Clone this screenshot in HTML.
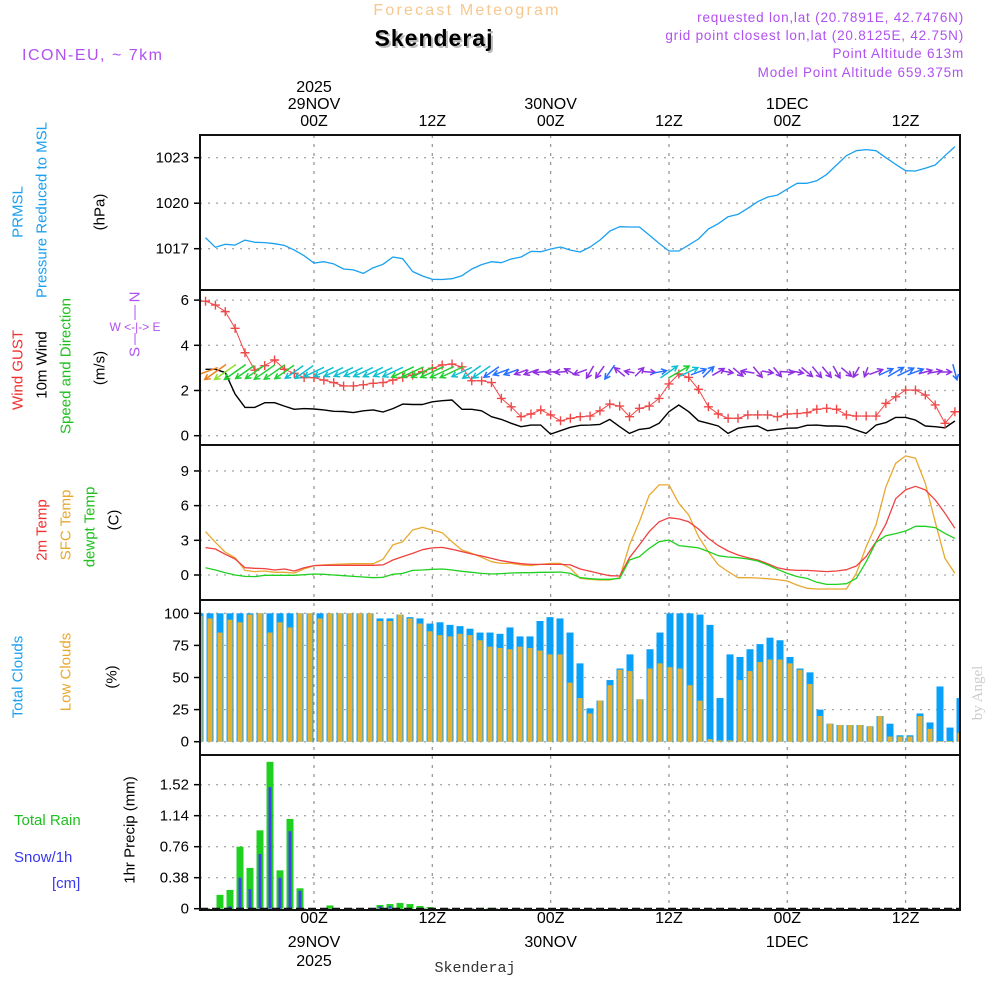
<!DOCTYPE html>
<html><head><meta charset="utf-8"><title>Meteogram Skenderaj</title>
<style>
html,body{margin:0;padding:0;background:#fff;}
svg{display:block;font-family:"Liberation Sans","DejaVu Sans",sans-serif;}
</style></head>
<body>
<svg id="chart" width="1000" height="1000" viewBox="0 0 1000 1000" xmlns="http://www.w3.org/2000/svg">
<rect x="0" y="0" width="1000" height="1000" fill="#fff"/>
<text x="467" y="15" text-anchor="middle" font-size="16" letter-spacing="2.2" fill="#f6c890">Forecast Meteogram</text>
<text x="436" y="48" text-anchor="middle" font-size="23" font-weight="bold" letter-spacing="1" fill="#bbb">Skenderaj</text>
<text x="434" y="46" text-anchor="middle" font-size="23" font-weight="bold" letter-spacing="1" fill="#000">Skenderaj</text>
<text x="22" y="60" font-size="16" letter-spacing="1.5" fill="#b050f0">ICON-EU, ~ 7km</text>
<g font-size="13.5" fill="#b050f0" text-anchor="end" letter-spacing="0.8">
<text x="964" y="22">requested lon,lat (20.7891E, 42.7476N)</text>
<text x="964" y="40">grid point closest lon,lat (20.8125E, 42.75N)</text>
<text x="964" y="58">Point Altitude 613m</text>
<text x="964" y="77">Model Point Altitude 659.375m</text>
</g>
<g id="grid"></g>
<g id="marks"></g>
<g id="frames"></g>
<g id="labels" font-size="15"></g>
<text transform="translate(982,693) rotate(-90)" text-anchor="middle" font-size="15" fill="#ccc" font-family="Liberation Serif, serif">by Angel</text>
<text x="475" y="972" text-anchor="middle" font-size="15" font-family="Liberation Mono, monospace" fill="#333">Skenderaj</text>
</svg>
<script>
// ---------- data (hourly, hours relative to 29NOV 00Z, -11..65) ----------
const hours = [];
for (let h = -11; h <= 65; h++) hours.push(h);
const pressure = [1017.73,1017.09,1017.29,1017.24,1017.57,1017.42,1017.40,1017.33,1017.22,1016.91,1016.54,1016.05,1016.14,1016.0,1015.66,1015.6,1015.37,1015.75,1015.97,1016.45,1016.34,1015.5,1015.2,1014.98,1014.97,1015.02,1015.22,1015.66,1015.95,1016.14,1016.08,1016.32,1016.45,1016.82,1016.80,1016.98,1017.11,1016.91,1016.78,1017.11,1017.57,1018.16,1018.45,1018.43,1018.43,1017.9,1017.35,1016.85,1016.85,1017.24,1017.64,1018.3,1018.65,1019.11,1019.26,1019.66,1020.1,1020.4,1020.53,1020.93,1021.31,1021.31,1021.48,1021.9,1022.52,1023.13,1023.46,1023.53,1023.46,1023.0,1022.56,1022.14,1022.12,1022.3,1022.52,1023.13,1023.73];
const gust = [5.95,5.78,5.49,4.75,3.67,2.9,3.1,3.35,2.94,2.76,2.57,2.57,2.46,2.35,2.2,2.2,2.25,2.32,2.35,2.46,2.58,2.68,2.83,2.98,3.13,3.17,3.05,2.43,2.43,2.35,1.65,1.28,0.84,0.96,1.14,0.92,0.66,0.77,0.84,0.87,1.1,1.4,1.31,0.84,1.21,1.31,1.65,2.29,2.73,2.58,2.05,1.28,0.96,0.77,0.77,0.92,0.92,0.92,0.84,0.96,0.98,1.02,1.17,1.21,1.17,0.92,0.87,0.87,0.87,1.43,1.72,2.02,2.02,1.8,1.36,0.55,1.06];
const wind10 = [2.94,2.94,2.79,1.84,1.25,1.25,1.46,1.46,1.31,1.17,1.2,1.18,1.14,1.08,1.07,1.02,1.1,1.14,1.05,1.2,1.4,1.38,1.38,1.5,1.55,1.58,1.17,1.17,1.1,0.84,0.72,0.55,0.4,0.47,0.47,0.07,0.22,0.37,0.46,0.47,0.5,0.72,0.4,0.1,0.28,0.33,0.55,1.06,1.36,1.06,0.66,0.55,0.43,0.1,0.33,0.4,0.43,0.22,0.28,0.33,0.34,0.46,0.47,0.43,0.43,0.4,0.25,0.1,0.47,0.58,0.81,0.81,0.69,0.43,0.4,0.35,0.65];
const windDir = [250,235,235,235,235,235,235,235,235,235,235,245,245,245,245,245,245,245,245,245,245,245,245,245,245,245,245,235,235,235,250,250,250,250,265,265,265,300,250,210,215,215,310,280,45,95,80,55,60,65,70,45,60,100,130,280,140,100,140,95,100,130,140,140,150,130,210,200,70,65,60,65,70,75,80,90,165];
const temp2m = [2.37,2.25,1.79,1.38,0.63,0.58,0.55,0.43,0.52,0.35,0.63,0.81,0.84,0.84,0.84,0.84,0.84,0.84,0.87,1.3,1.59,1.87,2.19,2.34,2.39,2.22,2.02,1.82,1.64,1.44,1.24,1.1,0.98,0.92,0.92,0.92,0.92,0.87,0.52,0.32,0.12,-0.06,-0.09,1.5,2.6,3.75,4.6,4.96,4.85,4.6,3.98,3.17,2.54,2.08,1.73,1.5,1.3,0.98,0.63,0.46,0.4,0.4,0.35,0.29,0.35,0.46,0.78,1.6,2.88,4.4,6.6,7.36,7.67,7.36,6.5,5.34,4.04];
const tempSfc = [3.75,2.83,1.96,1.5,0.4,0.29,0.35,0.23,0.23,0.17,0.52,0.81,0.87,0.92,0.95,0.98,0.98,0.98,1.36,2.6,2.88,3.89,4.12,3.89,3.66,2.88,2.16,1.87,1.53,1.15,1.0,1.0,0.87,0.81,0.92,1.0,1.0,0.58,-0.29,-0.37,-0.43,-0.43,-0.23,2.6,4.6,6.9,7.79,7.79,6.2,5.2,3.32,2.0,0.87,0.29,-0.23,-0.23,-0.26,-0.32,-0.4,-0.52,-0.87,-1.15,-1.21,-1.21,-1.21,-1.21,0.14,2.45,4.33,7.64,9.66,10.3,10.1,7.93,4.6,1.44,0.14];
const dewpt = [0.63,0.43,0.2,0.0,-0.12,-0.14,-0.03,-0.03,-0.03,-0.03,0.03,0.09,0.06,0.0,-0.06,-0.12,-0.17,-0.23,-0.2,0.06,0.14,0.4,0.43,0.49,0.52,0.43,0.32,0.23,0.14,0.09,0.12,0.17,0.2,0.2,0.23,0.23,0.26,0.14,-0.23,-0.32,-0.37,-0.37,-0.29,1.3,1.59,2.3,2.88,3.03,2.54,2.45,2.34,2.02,1.67,1.56,1.5,1.38,1.21,0.87,0.49,0.14,-0.14,-0.29,-0.63,-0.81,-0.81,-0.75,-0.29,1.15,2.83,3.4,3.58,3.81,4.21,4.21,4.1,3.6,3.17];
const totalClouds = [100,100,100,100,100,100,100,100,100,100,100,100,100,100,100,100,100,100,96,96,99,97,96,92,93,91,90,88,85,85,84,89,82,82,94,97,96,85,61,26,32,48,57,68,33,72,85,100,100,100,99,91,34,68,66,72,76,81,79,66,57,54,25,14,13,13,13,12,20,14,5,5,22,15,43,11,34];
const lowClouds = [98,96,85,95,93,99,100,85,93,89,100,100,96,100,100,100,100,100,94,94,99,96,92,86,83,82,84,83,79,74,73,72,74,73,71,68,68,46,34,22,32,44,56,55,33,57,61,58,57,44,32,2,1,1,48,55,62,64,64,61,56,45,20,14,13,13,13,12,20,4,4,4,20,10,0.5,0.5,7];
const rain = [0,0,0.17,0.23,0.76,0.5,0.96,1.8,0.47,1.1,0.25,0,0,0.04,0,0,0,0,0.045,0.057,0.07,0.057,0.033,0.02,0,0,0,0,0.01,0.01,0,0,0,0,0,0,0,0,0,0,0,0,0,0,0,0,0,0,0,0,0,0,0,0,0,0,0,0,0,0,0,0,0,0,0,0,0,0,0,0,0,0,0,0,0,0,0];
const snow = [0,0,0,0.03,0.38,0.24,0.67,1.49,0.38,0.95,0.22,0,0,0,0,0,0,0,0.03,0.03,0,0,0,0,0,0,0,0,0,0,0,0,0,0,0,0,0,0,0,0,0,0,0,0,0,0,0,0,0,0,0,0,0,0,0,0,0,0,0,0,0,0,0,0,0,0,0,0,0,0,0,0,0,0,0,0,0];
const pressTicks = [1017,1020,1023];
const windTicks = [0,2,4,6];
const tempTicks = [0,3,6,9];
const cloudTicks = [0,25,50,75,100];
const precipTicks = [0,0.38,0.76,1.14,1.52];
const timeTicks = [0,12,24,36,48,60];
const timeLabels = ["00Z","12Z","00Z","12Z","00Z","12Z"];
const dayLabels = ["29NOV","","30NOV","","1DEC",""];

// ---------- scales ----------
const X0 = 200, X1 = 960;
const xT = h => 314 + 9.86 * h;
const xBar = h => 310 + 10 * h;
const yP = v => 248.7 - (v - 1017) * 15.17;
const yW = v => 435.7 - v * 22.6;
const yTm = v => 575 - v * 11.56;
const yC = v => 741.7 - v * 1.284;
const yR = v => 908.7 - v * 81.6;
const panels = [[135,290],[290,445],[445,600],[600,755],[755,910]];

const NS = "http://www.w3.org/2000/svg";
function mk(tag, attrs, parent) {
  const e = document.createElementNS(NS, tag);
  for (const k in attrs) e.setAttribute(k, attrs[k]);
  parent.appendChild(e);
  return e;
}
const grid = document.getElementById('grid');
const marks = document.getElementById('marks');
const frames = document.getElementById('frames');
const labels = document.getElementById('labels');

const defs = mk('defs', {}, document.getElementById('chart'));
const cp = mk('clipPath', {id: 'plotclip'}, defs);
mk('rect', {x: X0, y: 135, width: X1 - X0, height: 775}, cp);
marks.setAttribute('clip-path', 'url(#plotclip)');

timeTicks.forEach(t => {
  const l = mk('line', {x1: xT(t), x2: xT(t), y1: 135, y2: 910, stroke: '#999', 'stroke-width': 1.3, 'stroke-dasharray': '3,6'}, grid);
  
  
});
function yAxis(ticks, ys, fmt, name) {
  ticks.forEach(t => {
    const y = ys(t);
    const g = mk('line', {x1: X0, x2: X1, y1: y, y2: y, stroke: '#aaa', 'stroke-width': 1.3, 'stroke-dasharray': '2,6'}, grid);
    
    
    mk('line', {x1: X0 - 6, x2: X0, y1: y, y2: y, stroke: '#000', 'stroke-width': 1.5}, frames);
    const tx = mk('text', {x: 189, y: y + 5, 'text-anchor': 'end', 'font-size': 15, fill: '#000'}, labels);
    tx.textContent = fmt(t);
    
    
  });
}
yAxis(pressTicks, yP, t => String(t), 'pressure');
yAxis(windTicks, yW, t => String(t), 'wind');
yAxis(tempTicks, yTm, t => String(t), 'temp');
yAxis(cloudTicks, yC, t => String(t), 'cloud');
yAxis(precipTicks, yR, t => t === 0 ? '0' : t.toFixed(2), 'precip');

panels.forEach(p => {
  const r = mk('rect', {x: X0, y: p[0], width: X1 - X0, height: p[1] - p[0], fill: 'none', stroke: '#111', 'stroke-width': 2}, frames);
  
  
});

timeTicks.forEach((t, i) => {
  const x = xT(t);
  const a = mk('text', {x: x, y: 126, 'text-anchor': 'middle', 'font-size': 16}, labels);
  a.textContent = timeLabels[i];
  
  
  const b = mk('text', {x: x, y: 923, 'text-anchor': 'middle', 'font-size': 16}, labels);
  b.textContent = timeLabels[i];
  
  
  if (dayLabels[i]) {
    const c = mk('text', {x: x, y: 109, 'text-anchor': 'middle', 'font-size': 16}, labels);
    c.textContent = dayLabels[i];
    
    
    const d = mk('text', {x: x, y: 947, 'text-anchor': 'middle', 'font-size': 16}, labels);
    d.textContent = dayLabels[i];
    
    
  }
});
const y1 = mk('text', {x: xT(0), y: 92, 'text-anchor': 'middle', 'font-size': 16}, labels);
y1.textContent = '2025';


const y2 = mk('text', {x: xT(0), y: 966, 'text-anchor': 'middle', 'font-size': 16}, labels);
y2.textContent = '2025';



function vlab(x, y, txt, color, name) {
  const t = mk('text', {transform: `translate(${x},${y}) rotate(-90)`, 'text-anchor': 'middle', 'dominant-baseline': 'central', 'font-size': 15, fill: color}, labels);
  t.textContent = txt;
  
  
}
vlab(18, 212, 'PRMSL', '#1ba0f0', 'pressure-label');
vlab(42, 210, 'Pressure Reduced to MSL', '#1ba0f0', 'pressure-desc-label');
vlab(100, 212, '(hPa)', '#000', 'pressure-unit');
vlab(18, 370, 'Wind GUST', '#f03030', 'gust-label');
vlab(42, 365, '10m Wind', '#000', 'wind10-label');
vlab(66, 366, 'Speed and Direction', '#20c020', 'wind-dir-label');
vlab(100, 368, '(m/s)', '#000', 'wind-unit');
vlab(42, 530, '2m Temp', '#f03030', 'temp2m-label');
vlab(66, 525, 'SFC Temp', '#e8a830', 'sfc-temp-label');
vlab(90, 527, 'dewpt Temp', '#20c020', 'dewpt-label');
vlab(114, 520, '(C)', '#000', 'temp-unit');
vlab(18, 677, 'Total Clouds', '#1ba0f0', 'total-clouds-label');
vlab(66, 672, 'Low Clouds', '#e8a830', 'low-clouds-label');
vlab(112, 677, '(%)', '#000', 'cloud-unit');
vlab(130, 830, '1hr Precip (mm)', '#000', 'precip-unit');
vlab(135, 297, 'N', '#b050f0', 'compass-north');
vlab(135, 352, 'S', '#b050f0', 'compass-south');
const cmp = mk('text', {x: 135, y: 331, 'text-anchor': 'middle', 'font-size': 12, fill: '#b050f0'}, labels);
cmp.textContent = 'W <-|-> E';


mk('line', {x1: 135, x2: 135, y1: 305, y2: 320, stroke: '#b050f0', 'stroke-width': 1}, labels);
mk('line', {x1: 135, x2: 135, y1: 333, y2: 345, stroke: '#b050f0', 'stroke-width': 1}, labels);
const tr = mk('text', {x: 14, y: 825, 'font-size': 15, fill: '#20c020'}, labels);
tr.textContent = 'Total  Rain';


const sn = mk('text', {x: 14, y: 862, 'font-size': 15, fill: '#3838f0'}, labels);
sn.textContent = 'Snow/1h';


const cm = mk('text', {x: 52, y: 888, 'font-size': 15, fill: '#3838f0'}, labels);
cm.textContent = '[cm]';



hours.forEach((h, i) => {
  const x = xBar(h);
  const b = mk('rect', {x: x - 3.5, y: yC(totalClouds[i]), width: 7, height: yC(0) - yC(totalClouds[i]), fill: '#08a0f8'}, marks);
  
  
  const o = mk('rect', {x: x - 2.5, y: yC(lowClouds[i]), width: 5, height: yC(0) - yC(lowClouds[i]), fill: '#e8b030'}, marks);
  
  
  if (rain[i] > 0) {
    const r = mk('rect', {x: x - 3.5, y: yR(rain[i]), width: 7, height: yR(0) - yR(rain[i]), fill: '#20d020'}, marks);
    
    
  }
  if (snow[i] > 0) {
    const s = mk('rect', {x: x - 1.5, y: yR(snow[i]), width: 3, height: yR(0) - yR(snow[i]), fill: '#4040f0'}, marks);
    
    
  }
});
mk('line', {x1: X0, x2: X1, y1: yR(0), y2: yR(0), stroke: '#111', 'stroke-width': 2, 'stroke-dasharray': '8,4'}, marks);

function line(arr, ys, color, name, w) {
  const d = arr.map((v, i) => (i ? 'L' : 'M') + xT(hours[i]).toFixed(1) + ',' + ys(v).toFixed(1)).join('');
  const p = mk('path', {d: d, fill: 'none', stroke: color, 'stroke-width': w || 1.3, 'stroke-linejoin': 'round'}, marks);
  
  
}
line(pressure, yP, '#1ba0f0', 'pressure-line');
line(wind10, yW, '#000', 'wind10-line', 1.4);
line(gust, yW, '#f04848', 'gust-line', 1);
gust.forEach((v, i) => {
  const x = xT(hours[i]), y = yW(v);
  const m = mk('path', {d: `M${x - 4.5},${y}H${x + 4.5}M${x},${y - 4.5}V${y + 4.5}`, stroke: '#f04848', 'stroke-width': 1.4}, marks);
  
  
});
line(tempSfc, yTm, '#e8a830', 'sfc-temp-line');
line(temp2m, yTm, '#f04040', 'temp2m-line');
line(dewpt, yTm, '#20d020', 'dewpt-line');

function windColor(s) {
  if (s >= 2.9) return '#f08020';
  if (s >= 2) return '#90e030';
  if (s >= 1.22) return '#20d030';
  if (s >= 0.9) return '#10c0d0';
  if (s >= 0.52) return '#2870ff';
  return '#9030e0';
}
hours.forEach((h, i) => {
  const s = wind10[i];
  const L = Math.min(26, 9 + 11 * s);
  const a = windDir[i] * Math.PI / 180;
  const dx = Math.sin(a), dy = -Math.cos(a);
  const cx = xT(h), cy = 372;
  const x1 = cx - dx * L / 2, y1 = cy - dy * L / 2, x2 = cx + dx * L / 2, y2 = cy + dy * L / 2;
  const hl = 6;
  const b1 = a + Math.PI - 0.5, b2 = a + Math.PI + 0.5;
  const d = `M${x1},${y1}L${x2},${y2}M${x2 + Math.sin(b1) * hl},${y2 - Math.cos(b1) * hl}L${x2},${y2}L${x2 + Math.sin(b2) * hl},${y2 - Math.cos(b2) * hl}`;
  const p = mk('path', {d: d, fill: 'none', stroke: windColor(s), 'stroke-width': 1.5}, marks);
  
  
});
</script>
</body></html>
